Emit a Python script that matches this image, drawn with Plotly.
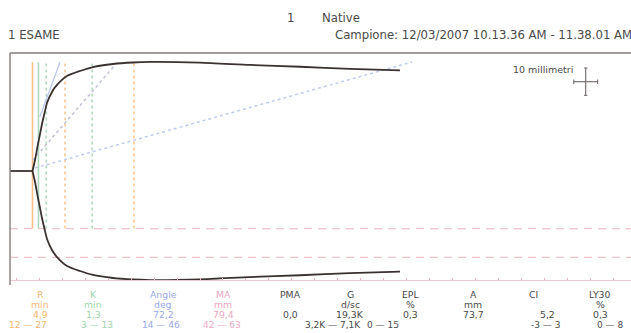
import plotly.graph_objects as go

# ---------------- data ----------------
time_min = [0, 4.9, 5.45, 6.10, 6.54, 6.97, 7.63, 8.06, 9.15, 10.24, 12.42,
            15.25, 18.08, 22.44, 26.80, 30.50, 41.39, 52.29, 63.18, 74.07, 84.97]
amplitude_mm = [0, 0, 8.0, 19.7, 27.0, 34.3, 43.8, 49.6, 57.7, 62.8, 69.3,
                73.0, 75.9, 78.1, 79.2, 79.6, 79.1, 77.4, 76.1, 74.5, 73.5]

R_min = 4.9
K_min = 1.3
MA_mm = 79.4
R_range = [12, 27]
K_range = [3, 13]
MA_range = [42, 63]

angle_fit_t = [6.5, 10.9]
angle_fit_a = [19.7, 39.8]
angle_low_t = [5.45, 87.6]
angle_low_a = [1.1, 39.8]
angle_high_t = [5.0, 22.9]
angle_high_a = [4.0, 38.7]

param_names = ["R", "K", "Angle", "MA", "PMA", "G", "EPL", "A", "CI", "LY30"]
param_units = ["min", "min", "deg", "mm", "", "d/sc", "%", "mm", "", "%"]
param_values = ["4,9", "1,3", "72,2", "79,4", "0,0", "19,3K", "0,3", "73,7", "5,2", "0,3"]
param_ranges = ["12 \u2014 27", "3 \u2014 13", "14 \u2014 46", "42 \u2014 63", "",
                "3,2K \u2014 7,1K", "0 \u2014 15", "", "-3 \u2014 3", "0 \u2014 8"]

# ---------------- style / layout ----------------
W, H = 631, 333
ML, MR, MT, MB = 10, 0, 53, 53
PX_PER_MIN = 4.59
PX_PER_MM = 2.74
BASE_PX = 171

ORANGE = "#f5b66e"
GREEN = "#9fd4ae"
BLUE = "#9aa9e6"
PINK = "#eba9c4"
GREY_TXT = "#4a4a4a"
CURVE = "#3a3230"

param_colors = [ORANGE, GREEN, BLUE, PINK, GREY_TXT, GREY_TXT, GREY_TXT, GREY_TXT, GREY_TXT, GREY_TXT]
head_x = [40, 93, 163, 223, 290, 350, 410, 473, 533, 600]
value_x = [40, 93, 163, 223, 290, 350, 410, 473, 547, 600]
range_x = [28, 97, 161, 222, 0, 333, 383, 0, 545, 610]
row_y = [294.5, 304.5, 314, 324.5]

plot_w = W - ML - MR
plot_h = H - MT - MB
x_max = plot_w / PX_PER_MIN
y_top = (BASE_PX - MT) / PX_PER_MM
y_bot = -((H - MB) - BASE_PX) / PX_PER_MM


def px_x(p):
    return (p - ML) / plot_w


def px_y(p):
    return ((H - MB) - p) / plot_h


# split the trace into the flat baseline (before R) and the growing part (from R)
split = time_min.index(R_min)
base_t = time_min[:split + 1]
base_a = [a / 2 for a in amplitude_mm[:split + 1]]
grow_t = time_min[split:]
upper = [a / 2 for a in amplitude_mm[split:]]
lower = [-a / 2 for a in amplitude_mm[split:]]

fig = go.Figure()

half_ma = MA_mm / 2
v_lo = -MA_range[0] / 2

# vertical marker lines
vlines = [
    (R_range[0], "#f8c995", "dot"),
    (R_range[1], "#f8c995", "dot"),
    (R_min + K_range[0], "#b3dcc0", "dot"),
    (R_min + K_range[1], "#b3dcc0", "dot"),
    (R_min, "#f6c087", "solid"),
    (R_min + K_min, "#acd9bb", "solid"),
]
for xv, col, dash in vlines:
    fig.add_trace(go.Scatter(x=[xv, xv], y=[v_lo, half_ma], mode="lines",
                             line=dict(color=col, width=1.6, dash=dash),
                             hoverinfo="skip", showlegend=False))

# angle lines
fig.add_trace(go.Scatter(x=angle_low_t, y=angle_low_a, mode="lines",
                         line=dict(color="#bfcdea", width=1.5, dash="dot"),
                         hoverinfo="skip", showlegend=False))
fig.add_trace(go.Scatter(x=angle_high_t, y=angle_high_a, mode="lines",
                         line=dict(color="#bfc2d3", width=1.5, dash="dot"),
                         hoverinfo="skip", showlegend=False))
fig.add_trace(go.Scatter(x=angle_fit_t, y=angle_fit_a, mode="lines",
                         line=dict(color="#bcc8ee", width=1.3),
                         hoverinfo="skip", showlegend=False))

# MA normal range dashed lines
for lvl in MA_range:
    fig.add_trace(go.Scatter(x=[0, x_max], y=[-lvl / 2, -lvl / 2], mode="lines",
                             line=dict(color="#edc3c9", width=1.3, dash="8px,6px"),
                             hoverinfo="skip", showlegend=False))

# TEG curve
fig.add_trace(go.Scatter(x=base_t, y=base_a, mode="lines",
                         line=dict(color=CURVE, width=1.8),
                         hoverinfo="skip", showlegend=False))
for ys in (upper, lower):
    fig.add_trace(go.Scatter(x=grow_t, y=ys, mode="lines",
                             line=dict(color=CURVE, width=1.8, shape="spline", smoothing=0.6),
                             hoverinfo="skip", showlegend=False))

shapes = []
# top border
shapes.append(dict(type="line", xref="paper", yref="paper", x0=0, x1=1, y0=1, y1=1,
                   line=dict(color="#a29c9a", width=2)))
# left border
shapes.append(dict(type="line", xref="paper", yref="paper", x0=0, x1=0, y0=px_y(285), y1=1,
                   line=dict(color="#8c8583", width=1.5)))

# scale cross (10 mm)
cx = (585.7 - ML) / PX_PER_MIN
cy = (BASE_PX - 81.7) / PX_PER_MM
hv = 5.0
hh = 2.6
cap_y = 0.8
cap_x = 0.35
CROSS = "#7a7472"
cross = [
    (cx, cx, cy - hv, cy + hv),
    (cx - hh, cx + hh, cy, cy),
    (cx - cap_x, cx + cap_x, cy + hv, cy + hv),
    (cx - cap_x, cx + cap_x, cy - hv, cy - hv),
    (cx - hh, cx - hh, cy - cap_y, cy + cap_y),
    (cx + hh, cx + hh, cy - cap_y, cy + cap_y),
]
for x0, x1, y0, y1 in cross:
    shapes.append(dict(type="line", xref="x", yref="y", x0=x0, x1=x1, y0=y0, y1=y1,
                       line=dict(color=CROSS, width=1.2)))

FONT = "DejaVu Sans"
ann = []


def text(s, xp, yp, size, color, xanchor="center"):
    ann.append(dict(text=s, x=px_x(xp), y=px_y(yp), xref="paper", yref="paper",
                    xanchor=xanchor, yanchor="middle", showarrow=False,
                    font=dict(family=FONT, size=size, color=color)))


text("1 ESAME", 6, 35, 11.7, GREY_TXT, "left")
text("1", 290, 18, 11.7, GREY_TXT, "center")
text("Native", 320, 18, 11.7, GREY_TXT, "left")
text("Campione: 12/03/2007 10.13.36 AM - 11.38.01 AM", 333, 35, 11.7, GREY_TXT, "left")
text("10 millimetri", 575, 69, 9.5, GREY_TXT, "right")

for i, name in enumerate(param_names):
    col = param_colors[i]
    text(name, head_x[i], row_y[0], 9.3, col)
    if param_units[i]:
        text(param_units[i], head_x[i], row_y[1], 9.3, col)
    text(param_values[i], value_x[i], row_y[2], 9.3, col)
    if param_ranges[i]:
        text(param_ranges[i], range_x[i], row_y[3], 9, col)

fig.update_layout(
    width=W, height=H,
    margin=dict(l=ML, r=MR, t=MT, b=MB, pad=0),
    paper_bgcolor="white", plot_bgcolor="white",
    xaxis=dict(range=[0, x_max], showgrid=False, zeroline=False, showticklabels=False,
               showline=True, linecolor="#efc9d2", linewidth=1.3,
               ticks="inside", ticklen=2, tickcolor="#e3b8c2", tickwidth=1,
               tick0=1.4, dtick=5, fixedrange=True),
    yaxis=dict(range=[y_bot, y_top], showgrid=False, zeroline=False, showticklabels=False,
               showline=False, ticks="", fixedrange=True),
    shapes=shapes,
    annotations=ann,
    showlegend=False,
)

fig.write_html("out.html")
